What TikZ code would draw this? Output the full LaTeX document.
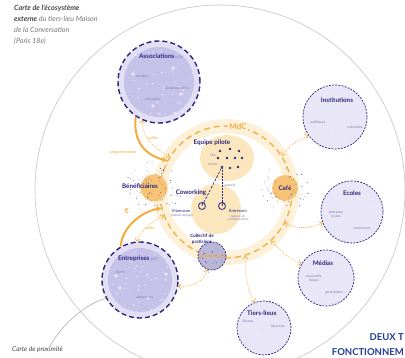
\documentclass[tikz,border=0pt]{standalone}
\usepackage{fontspec}
\setmainfont{Lato}
\usetikzlibrary{arrows.meta,calc}
\definecolor{navy}{RGB}{45,38,125}
\definecolor{lavA}{RGB}{198,193,232}
\definecolor{lavB}{RGB}{226,223,245}
\definecolor{lavC}{RGB}{232,230,247}
\definecolor{lavD}{RGB}{185,182,214}
\definecolor{ora}{RGB}{244,172,60}
\definecolor{oraL}{RGB}{252,230,190}
\definecolor{oraB}{RGB}{253,241,218}
\definecolor{oraC}{RGB}{247,196,118}
\definecolor{txtg}{RGB}{125,120,175}
\definecolor{titdark}{RGB}{70,70,70}
\definecolor{titlight}{RGB}{120,120,120}
\definecolor{bigblue}{RGB}{32,62,150}
\tikzset{
 bigdisc/.style={circle, draw=navy, line width=1.4pt, dash pattern=on 5pt off 3pt, fill=lavB, inner sep=0pt},
 smalldisc/.style={circle, draw=navy, line width=0.7pt, dash pattern=on 2pt off 1.2pt, fill=lavC, inner sep=0pt},
 lbl/.style={font=\bfseries\fontsize{6.3}{7}\selectfont, text=navy, inner sep=0pt},
 tinytxt/.style={font=\fontsize{3.4}{4}\selectfont, text=txtg, inner sep=0pt, align=left},
 oratxt/.style={font=\fontsize{4}{5}\selectfont, text=ora, inner sep=0pt},
 thickarr/.style={draw=ora, line width=2pt, -{Stealth[length=5pt,width=5pt]}},
 dotarr/.style={draw=ora, line width=0.7pt, dash pattern=on 0.8pt off 1.2pt, {Straight Barb[length=2.5pt]}-{Straight Barb[length=2.5pt]}},
 pinring/.style={circle, draw=navy, line width=0.8pt, minimum size=7pt, inner sep=0pt},
 smallname/.style={font=\fontsize{4.2}{5}\selectfont, text=navy, inner sep=0pt},
 headtxt/.style={anchor=east, inner sep=0pt, font=\bfseries\fontsize{9.5}{11}\selectfont, text=bigblue},
}
\begin{document}
\begin{tikzpicture}[x=1pt,y=-1pt]
\useasboundingbox (0,0) rectangle (405,358);
\clip (0,0) rectangle (405,358);
\fill[white] (0,0) rectangle (405,358);
% outer circle
\node[circle, draw=gray!45, line width=0.6pt, minimum size=370pt, inner sep=0pt] (outer) at (220,190) {};
% MdC band and blobs
\draw[oraB, line width=14pt] (226,192) circle (66);
\fill[oraL] (227,158) ellipse (27 and 23);
\fill[oraL] (216,209) circle (25);
\node[circle, draw=ora, line width=1.3pt, dash pattern=on 6pt off 4pt, minimum size=132pt, inner sep=0pt] (mdc) at (226,192) {};
\node[font=\bfseries\fontsize{8}{9}\selectfont, text=ora, fill=oraB, inner sep=1pt] (mdclbl) at (238,127) {MdC};

% title
\node[anchor=north west, align=left, inner sep=0pt, font=\itshape\fontsize{7.2}{10.8}\selectfont, text=titlight] (title) at (14,5)
 {\textcolor{titdark}{\bfseries Carte de l'écosystème}\\ \textcolor{titdark}{\bfseries externe} du tiers-lieu Maison\\ de la Conversation\\ (Paris 18e)};

% Associations
\node[bigdisc, minimum size=82pt] (assoc) at (159,82) {};
\fill[lavA] (assoc.center) circle (35);
\pgfmathsetseed{7}
\foreach \i in {1,...,55}{
 \pgfmathsetmacro\ang{360*rnd}
 \pgfmathsetmacro\rad{36*sqrt(rnd)}
 \fill[white, opacity=0.85] ([shift={(\ang:\rad)}]assoc.center) circle ({0.3+0.5*rnd});
}
\foreach \p in {(-26,-8),(14,-14),(22,12),(-6,24),(5,6)}{
 \draw[white, line width=0.5pt] ([shift={\p}]assoc.center) circle (1.2);
}
\node[lbl] (assoclbl) at (161,56) {Associations\,{\mdseries\fontsize{3.4}{4}\selectfont\textcolor{txtg}{(x36)}}};
\node[tinytxt] at (142,76) {sociales};
\node[tinytxt] at (176,88) {éducatives, villes};
\node[tinytxt] at (153,99) {culturelles};

% Entreprises
\node[bigdisc, minimum size=76pt] (entr) at (140,280) {};
\fill[lavA] (entr.center) circle (32);
\foreach \i in {1,...,50}{
 \pgfmathsetmacro\ang{360*rnd}
 \pgfmathsetmacro\rad{33*sqrt(rnd)}
 \fill[white, opacity=0.85] ([shift={(\ang:\rad)}]entr.center) circle ({0.3+0.5*rnd});
}
\foreach \p in {(-24,-4),(-20,8),(26,-6),(8,18)}{
 \draw[white, line width=0.5pt] ([shift={\p}]entr.center) circle (1.2);
}
\node[lbl] (entrlbl) at (138,259) {Entreprises\,{\mdseries\fontsize{3.4}{4}\selectfont\textcolor{txtg}{(x27)}}};
\node[tinytxt] at (120,272) {clients};
\node[tinytxt] at (145,298) {partenaires};

% Carte de proximité
\node[anchor=west, inner sep=0pt, font=\itshape\fontsize{6.6}{8}\selectfont, text=titdark] (prox) at (12,350) {Carte de proximité};
\draw[gray!70, line width=0.5pt] ([xshift=12pt]prox.north) .. controls (62,325) and (82,306) .. (entr.208);

% right-hand discs
\node[smalldisc, minimum size=64pt] (inst) at (335,117) {};
\node[smalldisc, minimum size=62pt] (ecol) at (352,212) {};
\node[smalldisc, minimum size=56pt] (med) at (326,278) {};
\node[smalldisc, minimum size=54pt] (tiers) at (264,328) {};
\foreach \n/\r in {inst/29,ecol/28,med/25,tiers/24}{
 \foreach \i in {1,...,14}{
  \pgfmathsetmacro\ang{360*rnd}
  \pgfmathsetmacro\rad{\r*sqrt(rnd)}
  \fill[white] ([shift={(\ang:\rad)}]\n.center) circle (0.4);
 }
}
\node[lbl] at (337,100) {Institutions};
\node[tinytxt] at (318,123) {politiques};
\node[tinytxt] at (355,127) {culturelles};
\node[lbl] at (352,193) {Ecoles};
\node[tinytxt, align=center] at (336,215) {primaires,\\lycées};
\node[tinytxt] at (362,229) {supérieures};
\node[lbl] at (323,263) {Médias};
\node[tinytxt, align=center] at (314,278) {associatifs,\\locaux};
\node[tinytxt] at (334,293) {généralistes};
\node[lbl] at (262,313) {Tiers-lieux};
\node[tinytxt] at (248,321) {Réseau};
\node[tinytxt] at (278,326) {Structure};

% Collectif de praticiens
\node[circle, draw=navy, line width=0.7pt, dash pattern=on 2pt off 1.2pt, fill=lavD, minimum size=28pt, inner sep=0pt] (coll) at (212,256) {};
\draw[ora, line width=1.3pt, dash pattern=on 3pt off 2pt] (199,256) -- (225,256);
\foreach \i in {1,...,14}{
 \pgfmathsetmacro\ang{360*rnd}
 \pgfmathsetmacro\rad{11*sqrt(rnd)}
 \fill[navy] ([shift={(\ang:\rad)}]coll.center) circle (0.4);
}
\node[lbl, font=\bfseries\fontsize{4.6}{5.4}\selectfont, align=center] (colllbl) at (202,239) {Collectif de\\praticiens};

% Café
\node[circle, fill=oraC, minimum size=26pt, inner sep=0pt] (cafe) at (285,188) {};
\foreach \i in {1,...,60}{
 \pgfmathsetmacro\ang{360*rnd}
 \pgfmathsetmacro\rad{9+16*rnd}
 \fill[navy, opacity=0.7] ([shift={(\ang:\rad)}]cafe.center) circle ({0.25+0.35*rnd});
}
\node[lbl] at (cafe.center) {Café};

% Bénéficiaires
\node[circle, fill=oraC, minimum size=27pt, inner sep=0pt] (benef) at (154,188) {};
\foreach \i in {1,...,90}{
 \pgfmathsetmacro\ang{360*rnd}
 \pgfmathsetmacro\rad{6+22*rnd}
 \fill[navy, opacity=0.7] ([shift={(\ang:\rad)}]benef.center) circle ({0.25+0.35*rnd});
}
\node[lbl] at (140,186) {Bénéficiaires};

% Equipe pilote
\node[lbl] at (212,143) {Equipe pilote};
\foreach \p in {(220,151),(230,149),(239,151),(218,158),(227,158),(235,158),(242,158),(230,168),(238,167)}{
 \fill[navy] \p circle (1.3);
}
\node[circle, fill=navy, minimum size=2.6pt, inner sep=0pt] (xav) at (222,167) {};
\node[tinytxt] at (213,155) {Lilia};
\node[tinytxt] at (213,164) {Xavier};

% Coworking
\node[lbl] at (191,193) {Coworking};
\node[pinring] (vita) at (202,206) {};
\node[pinring] (entc) at (222,206) {};
\draw[navy, line width=0.8pt] (vita.center) -- (vita.75);
\draw[navy, line width=0.8pt] (entc.center) -- (entc.75);
\draw[navy, line width=0.7pt, dash pattern=on 2.5pt off 1.5pt] (xav) -- (vita);
\draw[navy, line width=0.6pt, dash pattern=on 0.6pt off 0.9pt] (xav) -- (entc);
\node[tinytxt] at (230,185) {associé};
\node[smallname] at (181,211) {Vitanovae};
\node[tinytxt, font=\fontsize{3}{3.6}\selectfont] at (182,216) {(habitat partagé)};
\node[smallname] at (238,211) {Entrecom};
\node[tinytxt, font=\fontsize{3}{3.6}\selectfont, align=center] at (238,218) {(agence de\\communication)};

% arrows left
\draw[thickarr] (assoc.236) .. controls (133,142) and (145,155) .. (mdc.152);
\draw[dotarr] (mdc.148) .. controls (152,147) and (142,136) .. (assoc.246);
\node[oratxt] at (153,138) {salles};
\node[oratxt] at (123,152) {programmation};
\draw[thickarr] (entr.120) .. controls (122,228) and (140,212) .. (mdc.194);
\node[font=\bfseries\fontsize{7}{8}\selectfont, text=ora] at (127,211) {€};
\draw[dotarr] (mdc.201) .. controls (150,222) and (140,232) .. (entr.95);
\node[oratxt] at (150,228) {salles};
\draw[dotarr] (coll.250) .. controls (205,280) and (195,287) .. (entr.350);

% arrows right
\draw[dotarr] (mdc.33) .. controls (290,145) and (298,140) .. (inst.215);
\draw[dotarr] (mdc.-28) .. controls (300,230) and (312,228) .. (ecol.200);
\draw[dotarr] (mdc.-47) .. controls (282,252) and (290,260) .. (med.150);
\draw[dotarr] (mdc.-73) .. controls (244,275) and (248,290) .. (tiers.110);

% bottom-right heading, as far as the picture shows it
\node[headtxt] (h1) at (404,337) {DEUX T};
\node[headtxt] (h2) at (404,352) {FONCTIONNEM};
\end{tikzpicture}
\end{document}
